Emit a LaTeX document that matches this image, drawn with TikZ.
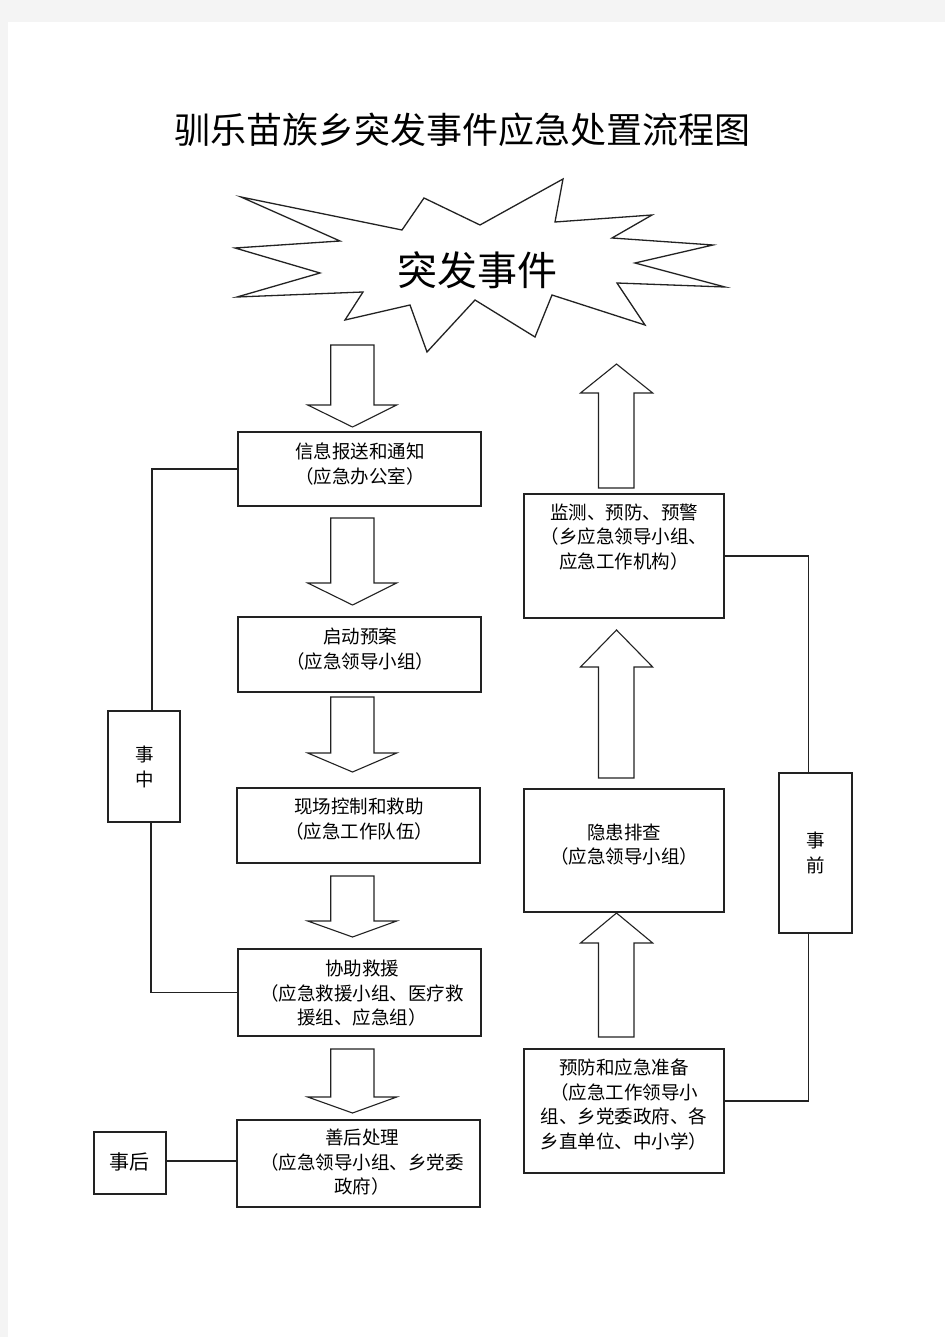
\documentclass[tikz,border=0pt]{standalone}
\usepackage{fontspec}
\newfontfamily\cjk{Noto Sans CJK SC}
\definecolor{pagegray}{HTML}{F4F4F4}
\definecolor{ink}{HTML}{222222}
\begin{document}
\begin{tikzpicture}[x=1pt,y=-1pt,
  box/.style={draw=ink, line width=1.2pt, outer sep=0pt, inner sep=0pt, minimum width=#1},
  box/.default=243pt,
  txt/.style={font=\cjk\fontsize{18.5}{24.5}\selectfont, align=center, inner sep=0pt},
  vtxt/.style={font=\cjk\fontsize{18.5}{24.5}\selectfont, align=center, inner sep=0pt},
  conn/.style={draw=ink, line width=1.3pt},
  blk/.style={draw=ink, line width=1.1pt, fill=white, line join=miter}
]
\useasboundingbox (0,0) rectangle (945,1337);
\fill[pagegray] (0,0) rectangle (945,1337);
\fill[white] (8,22) rectangle (945,1337);

% title
\node[font=\cjk\fontsize{36}{40}\selectfont, inner sep=0pt] (title) at (462,130) {驯乐苗族乡突发事件应急处置流程图};

% starburst
\draw[blk, line width=1.3pt] (241,197) -- (402,230) -- (424,198) -- (480,225) -- (563,179) -- (555,222)
  -- (652,215) -- (612,238) -- (713,245) -- (635,263) -- (725,287) -- (617,283) -- (645,325)
  -- (552,295) -- (535,337) -- (475,300) -- (427,352) -- (410,305) -- (345,320) -- (363,292)
  -- (237,297) -- (320,273) -- (235,248) -- (340,241) -- cycle;
\node[font=\cjk\fontsize{40}{44}\selectfont, inner sep=0pt] (event) at (477,270) {突发事件};

% left column boxes
\node[box, minimum height=74pt] (b1) at (359.5,469) {};
\node[box, minimum height=75pt] (b2) at (359.5,654.5) {};
\node[box, minimum height=75pt] (b3) at (358.5,825.5) {};
\node[box, minimum height=87pt] (b4) at (359.5,992.5) {};
\node[box, minimum height=87pt, line width=1.6pt] (b5) at (358.5,1163.5) {};
\node[txt] (t1) at (360,464) {信息报送和通知\\（应急办公室）};
\node[txt] (t2) at (360,649) {启动预案\\（应急领导小组）};
\node[txt] (t3) at (359,819) {现场控制和救助\\（应急工作队伍）};
\node[txt] (t4) at (362,993.5) {协助救援\\（应急救援小组、医疗救\\援组、应急组）};
\node[txt] (t5) at (362,1162.5) {善后处理\\（应急领导小组、乡党委\\政府）};

% side labels left
\node[box=72pt, minimum height=111pt, line width=1.5pt] (zz) at (144,766.5) {};
\node[vtxt] (tzz) at (145,767) {事\\中};
\node[box=72pt, minimum height=62pt] (sh) at (130,1163) {};
\node[font=\cjk\fontsize{20}{24}\selectfont, inner sep=0pt] (tsh) at (129,1162) {事后};

% right column boxes
\node[box=200pt, minimum height=124pt] (r1) at (624,556) {};
\draw[ink, line width=1.8pt] (r1.south west) -- (r1.south east);
\node[box=200pt, minimum height=123pt] (r2) at (624,850.5) {};
\node[box=200pt, minimum height=124pt] (r3) at (624,1111) {};
\node[txt] (tr1) at (624,537) {监测、预防、预警\\（乡应急领导小组、\\应急工作机构）};
\node[txt] (tr2) at (624,844.5) {隐患排查\\（应急领导小组）};
\node[txt] (tr3) at (624,1104.5) {预防和应急准备\\（应急工作领导小\\组、乡党委政府、各\\乡直单位、中小学）};

\node[box=73pt, minimum height=160pt] (zq) at (815.5,853) {};
\node[vtxt] (tzq) at (816,853) {事\\前};

% connectors
\draw[conn] (b1.west) -| ([xshift=8pt]zz.north);
\draw[conn] (b4.west) -| ([xshift=7pt]zz.south);
\draw[conn] ([yshift=2pt]sh.east) -- ([yshift=2pt]sh.east -| b5.west);
\draw[conn] (r1.east) -| ([xshift=-7pt]zq.north);
\draw[conn] ([yshift=10pt]r3.east) -| ([xshift=-7pt]zq.south);

% down block arrows (left column)
\foreach \top/\sh/\tip in {345/405/427, 518/583/605, 697/753/772, 876/921/937, 1049/1097/1113}{
  \draw[blk] (330.7,\top) -- (374,\top) -- (374,\sh) -- (396.7,\sh) -- (352.5,\tip)
     -- (307.7,\sh) -- (330.7,\sh) -- cycle;
}
% up block arrows (right column)
\foreach \bot/\sh/\tip in {488/393/364, 778/667/630, 1037/943/913}{
  \draw[blk] (598.5,\bot) -- (634,\bot) -- (634,\sh) -- (652.7,\sh) -- (616.5,\tip)
     -- (580.5,\sh) -- (598.5,\sh) -- cycle;
}
\end{tikzpicture}
\end{document}
